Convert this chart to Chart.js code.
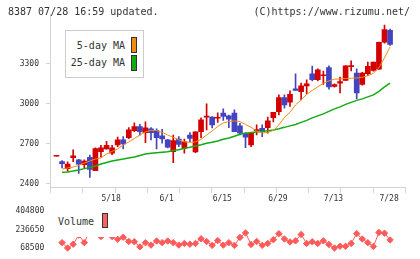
<!DOCTYPE html>
<html><head><meta charset="utf-8">
<script src="https://cdn.jsdelivr.net/npm/chart.js@4.4.0/dist/chart.umd.min.js"></script>
<style>
html,body{margin:0;padding:0;background:#fff;}
body{width:420px;height:259px;position:relative;overflow:hidden;font-family:"DejaVu Sans Mono",monospace;color:#333;}
#pc{position:absolute;left:0;top:0;}
#vc{position:absolute;left:0;top:200px;}
.t{position:absolute;font-size:10px;line-height:12px;white-space:nowrap;color:#333;}
.sw{position:absolute;width:4px;border:1px solid #333;}
</style></head><body>
<canvas id="pc" width="420" height="205"></canvas>
<canvas id="vc" width="420" height="59"></canvas>
<div class="t" style="left:8px;top:6px">8387 07/28 16:59 updated.</div>
<div class="t" style="right:10px;top:6px">(C)https://www.rizumu.net/</div>
<div style="position:absolute;left:65px;top:30px;width:77px;height:46px;border:1px solid #ccc;background:#fff"></div>
<div class="t" style="right:295px;top:40px">5-day MA</div>
<div class="t" style="right:295px;top:57px">25-day MA</div>
<div class="sw" style="left:131px;top:37px;height:14px;background:#f08c14"></div>
<div class="sw" style="left:131px;top:55px;height:14px;background:#14aa14"></div>
<div style="position:absolute;left:54px;top:203px;width:63px;height:34px;background:#fff"></div>
<div class="t" style="left:58px;top:216px">Volume</div>
<div class="sw" style="left:102px;top:213px;height:13px;background:#ff6060"></div>
<script>
const dates = ['4/28','4/30','5/1','5/7','5/8','5/11','5/12','5/13','5/14','5/15',
 '5/18','5/19','5/20','5/21','5/22','5/25','5/26','5/27','5/28','5/29',
 '6/1','6/2','6/3','6/4','6/5','6/8','6/9','6/10','6/11','6/12',
 '6/15','6/16','6/17','6/18','6/19','6/22','6/23','6/24','6/25','6/26',
 '6/29','6/30','7/1','7/2','7/3','7/6','7/7','7/8','7/9','7/10',
 '7/13','7/14','7/15','7/16','7/17','7/21','7/22','7/23','7/24','7/27','7/28'];
const labelIdx = [10,20,30,40,50,60];
const priceTicks = [2400,2700,3000,3300];
const volumeTicks = [68500,236650,404800];

const opens = [2608,2567,2515,2597,2580,2545,2600,2500,2642,2662,2630,2692,2730,2747,2800,2830,2785,2812,2800,2760,2730,2642,2737,2667,2767,2640,2792,2900,2900,2892,2930,2910,2930,2835,2780,2692,2800,2817,2822,2897,2942,3047,3012,3112,3092,3135,3225,3180,3210,3272,3130,3155,3175,3278,3230,3145,3225,3250,3260,3462,3550];
const highs = [2608,2575,2565,2655,2585,2580,2617,2670,2690,2720,2690,2752,2755,2822,2857,2847,2865,2822,2812,2810,2735,2767,2755,2737,2785,2790,2895,3000,2905,2932,2962,2915,2955,2855,2785,2787,2842,2842,2900,2937,3067,3067,3097,3225,3155,3180,3282,3262,3245,3285,3150,3200,3287,3322,3262,3235,3312,3312,3462,3590,3560];
const lows = [2608,2520,2495,2567,2480,2520,2450,2500,2600,2660,2620,2680,2662,2740,2792,2765,2710,2730,2662,2705,2670,2560,2680,2630,2717,2635,2747,2805,2820,2860,2875,2822,2792,2767,2672,2680,2767,2755,2780,2865,2917,2967,2980,3100,3030,3075,3172,3172,3145,3110,3125,3082,3175,3247,3037,3140,3212,3245,3257,3455,3437];
const closes = [2608,2552,2550,2610,2548,2572,2510,2665,2670,2690,2670,2730,2700,2805,2830,2792,2820,2785,2747,2737,2675,2725,2697,2715,2742,2790,2880,2906,2842,2898,2905,2885,2792,2780,2750,2780,2807,2792,2872,2937,3047,2992,3072,3100,3135,3150,3180,3255,3215,3127,3145,3167,3285,3283,3082,3230,3280,3312,3460,3555,3445];
const ma5 = [null,2512,2520,2527,2539,2557,2572,2587,2595,2625,2644,2662,2692,2715,2741,2767,2790,2801,2800,2786,2767,2749,2730,2715,2712,2715,2734,2767,2797,2831,2857,2867,2872,2867,2846,2824,2797,2782,2786,2801,2842,2899,2936,2992,3030,3071,3101,3127,3154,3172,3184,3187,3190,3191,3194,3199,3210,3229,3270,3345,3427];
const ma25 = [null,2487,2490,2497,2505,2515,2524,2535,2550,2561,2572,2580,2587,2595,2602,2614,2625,2630,2634,2638,2642,2650,2657,2668,2675,2685,2694,2705,2712,2722,2735,2745,2757,2772,2780,2785,2790,2794,2799,2805,2814,2824,2835,2846,2861,2876,2895,2910,2925,2944,2962,2977,2996,3011,3026,3037,3052,3067,3094,3127,3155];
const volumes = [null,115700,67000,101600,185000,115700,225900,242400,172000,234200,172000,147200,165400,126500,124000,76800,115700,93300,130600,115700,130600,115700,93300,108300,101600,108300,151300,126500,90900,134800,93300,115700,90900,163800,205200,99100,126500,90900,108300,143000,198500,149700,122300,132300,190300,108300,124000,108300,132300,99100,66800,82600,82600,108300,198500,149700,115700,80900,209300,202700,140600];

const X_MIN = -1.043, X_MAX = 62.74;
const FONT = 'DejaVu Sans Mono';
const AXIS = '#d4d4d4';
const candleColor = closes.map((c,i) => c >= opens[i] ? '#d40000' : '#4444c0');
const divTicks = Array.from({length:12}, (_,k) => X_MIN + k*(X_MAX-X_MIN)/11);

new Chart(document.getElementById('pc'), {
  type: 'bar',
  data: {
    datasets: [
      { type:'line', data: ma5.map((v,i)=>({x:i,y:v})), borderColor:'#f08c14', borderWidth:1, pointRadius:0, tension:0, order:0 },
      { type:'line', data: ma25.map((v,i)=>({x:i,y:v})), borderColor:'#14aa14', borderWidth:1.5, pointRadius:0, tension:0, order:0 },
      { data: dates.map((d,i)=>({x:i,y:[lows[i],highs[i]]})), backgroundColor:candleColor, barThickness:1, grouped:false, borderWidth:0, order:2 },
      { data: dates.map((d,i)=>({x:i,y:[opens[i],closes[i]]})), backgroundColor:candleColor, barThickness:5, grouped:false, borderWidth:0, minBarLength:1, order:1 }
    ]
  },
  options: {
    responsive:false, animation:false,
    layout:{ padding:{ left:0, right:14.7, top:14, bottom:0 } },
    plugins:{ legend:{display:false}, tooltip:{enabled:false} },
    scales:{
      x:{ type:'linear', min:X_MIN, max:X_MAX, offset:false,
        afterBuildTicks: s => { s.ticks = divTicks.map(v=>({value:v})).concat(labelIdx.map(v=>({value:v}))).sort((a,b)=>a.value-b.value); },
        ticks:{ autoSkip:false, maxRotation:0, padding:1, labelOffset:-1, color:'#333', font:{family:FONT,size:8},
          callback: v => labelIdx.includes(v) ? dates[v] : '' },
        grid:{ drawOnChartArea:false, drawTicks:true, tickLength:6, offset:false,
          color: ctx => (ctx.tick && labelIdx.includes(ctx.tick.value)) ? 'rgba(0,0,0,0)' : AXIS },
        border:{ display:true, color:AXIS },
        afterFit: s => { s.height = 18; }
      },
      y:{ type:'linear', min:2377.5, max:3672.5,
        afterBuildTicks: s => { s.ticks = priceTicks.map(v=>({value:v})); },
        ticks:{ padding:6.7, color:'#333', font:{family:FONT,size:8}, callback: v => String(v) },
        grid:{ drawOnChartArea:false, tickLength:5, color:AXIS },
        border:{ display:true, color:AXIS },
        afterFit: s => { s.width = 50.7; }
      }
    }
  }
});

new Chart(document.getElementById('vc'), {
  type: 'line',
  data: {
    datasets: [{
      data: volumes.map((v,i)=>({x:i,y:v})),
      borderColor:'#ff5a5a', backgroundColor:'#ff5a5a', borderWidth:1,
      pointStyle:'rectRot', pointRadius:3.2, pointBorderWidth:1,
      pointBackgroundColor:'#ff5a5a', pointBorderColor:'#ff5a5a',
      clip:false, spanGaps:false, tension:0
    }]
  },
  options: {
    responsive:false, animation:false,
    layout:{ padding:{ left:0, right:14.7, top:8.3, bottom:10 } },
    plugins:{ legend:{display:false}, tooltip:{enabled:false} },
    scales:{
      x:{ type:'linear', display:false, min:X_MIN, max:X_MAX },
      y:{ type:'linear', min:68500, max:404800,
        afterBuildTicks: s => { s.ticks = volumeTicks.map(v=>({value:v})); },
        ticks:{ padding:6.4, color:'#333', font:{family:FONT,size:8}, callback: v => String(v) },
        grid:{ display:false, drawTicks:false },
        border:{ display:false },
        afterFit: s => { s.width = 50.7; }
      }
    }
  }
});
</script>
</body></html>
